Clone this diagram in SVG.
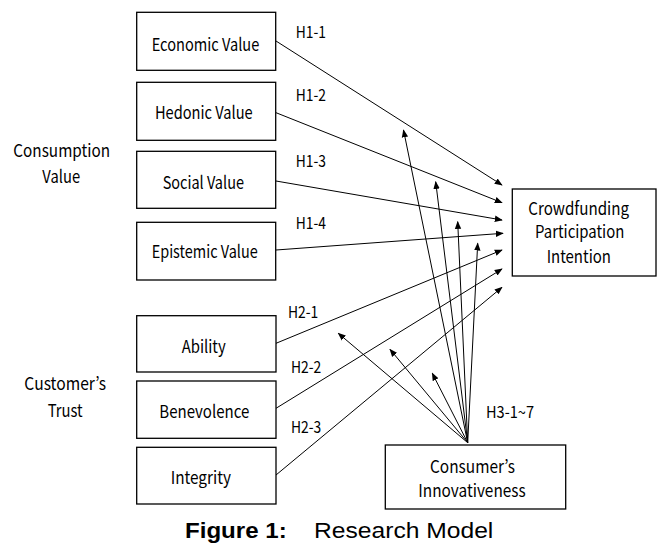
<svg xmlns="http://www.w3.org/2000/svg" width="667" height="552" viewBox="0 0 667 552">
<style>
.box{fill:#fff;stroke:#000;stroke-width:1.3}
.t{font-family:"Noto Sans CJK KR","Noto Sans",sans-serif;font-size:17.5px;fill:#000;text-anchor:middle}
.h{font-family:"Noto Sans CJK KR","Noto Sans",sans-serif;font-size:16.5px;fill:#000}
.c{stroke:#000;stroke-width:1;fill:none;marker-end:url(#ah)}
.cap{font-family:"Liberation Sans",Arial,sans-serif;font-size:22px;fill:#000}
</style>
<defs>
<marker id="ah" viewBox="0 0 10 10" refX="9" refY="5" markerWidth="8" markerHeight="8" markerUnits="userSpaceOnUse" orient="auto">
<path d="M0,1 L10,5 L0,9 Z" fill="#000"/>
</marker>
</defs>
<rect width="667" height="552" fill="#fff"/>
<g id="connectors">
<line class="c" x1="276" y1="41" x2="502" y2="185"/>
<line class="c" x1="276" y1="112.7" x2="502" y2="202.7"/>
<line class="c" x1="276" y1="181" x2="502" y2="220"/>
<line class="c" x1="276" y1="250" x2="503" y2="233.3"/>
<line class="c" x1="276" y1="343.3" x2="502" y2="250"/>
<line class="c" x1="276" y1="408.3" x2="502" y2="269"/>
<line class="c" x1="276" y1="475" x2="502" y2="287.3"/>
<line class="c" x1="467.7" y1="442.7" x2="403.5" y2="130"/>
<line class="c" x1="467.7" y1="442.7" x2="435.7" y2="181.7"/>
<line class="c" x1="467.7" y1="442.7" x2="457.7" y2="221.7"/>
<line class="c" x1="467.7" y1="442.7" x2="477.7" y2="243.3"/>
<line class="c" x1="467.7" y1="442.7" x2="338.3" y2="333.3"/>
<line class="c" x1="467.7" y1="442.7" x2="390" y2="349.3"/>
<line class="c" x1="467.7" y1="442.7" x2="432.3" y2="373.3"/>
</g>
<g id="labels">
<text class="h" x="295.7" y="38.3" textLength="30.3" lengthAdjust="spacingAndGlyphs">H1-1</text>
<text class="h" x="295.7" y="100.5" textLength="30.3" lengthAdjust="spacingAndGlyphs">H1-2</text>
<text class="h" x="295.7" y="167" textLength="30.3" lengthAdjust="spacingAndGlyphs">H1-3</text>
<text class="h" x="295.7" y="228.5" textLength="30.3" lengthAdjust="spacingAndGlyphs">H1-4</text>
<text class="h" x="288" y="318.3" textLength="30.3" lengthAdjust="spacingAndGlyphs">H2-1</text>
<text class="h" x="291" y="373.3" textLength="30.3" lengthAdjust="spacingAndGlyphs">H2-2</text>
<text class="h" x="291" y="433.3" textLength="30.3" lengthAdjust="spacingAndGlyphs">H2-3</text>
<text class="h" x="486" y="418.3" textLength="48" lengthAdjust="spacingAndGlyphs">H3-1~7</text>
</g>
<g id="economic"><rect class="box" x="136.7" y="12.3" width="139" height="58"/><text class="t" x="205.5" y="50.5" textLength="107.6" lengthAdjust="spacingAndGlyphs">Economic Value</text></g>
<g id="hedonic"><rect class="box" x="136.7" y="82.3" width="139" height="58"/><text class="t" x="203.8" y="119" textLength="97.7" lengthAdjust="spacingAndGlyphs">Hedonic Value</text></g>
<g id="social"><rect class="box" x="136.7" y="151.3" width="139" height="57"/><text class="t" x="203.3" y="189.3" textLength="81.3" lengthAdjust="spacingAndGlyphs">Social Value</text></g>
<g id="epistemic"><rect class="box" x="136.7" y="222.3" width="139" height="57.7"/><text class="t" x="204.7" y="258.3" textLength="106" lengthAdjust="spacingAndGlyphs">Epistemic Value</text></g>
<g id="ability"><rect class="box" x="136.7" y="315.7" width="139.3" height="56.3"/><text class="t" x="203.7" y="353.3" textLength="44" lengthAdjust="spacingAndGlyphs">Ability</text></g>
<g id="benevolence"><rect class="box" x="136.7" y="381" width="139.3" height="57.3"/><text class="t" x="204.3" y="418.3" textLength="90" lengthAdjust="spacingAndGlyphs">Benevolence</text></g>
<g id="integrity"><rect class="box" x="136.7" y="447.3" width="139.3" height="56.7"/><text class="t" x="200.8" y="484" textLength="60.3" lengthAdjust="spacingAndGlyphs">Integrity</text></g>
<g id="crowdfunding"><rect class="box" x="512.3" y="189" width="143.7" height="87"/><text class="t" x="578.7" y="215" textLength="100.7" lengthAdjust="spacingAndGlyphs">Crowdfunding</text><text class="t" x="579.7" y="238.3" textLength="89.3" lengthAdjust="spacingAndGlyphs">Participation</text><text class="t" x="578.8" y="263.3" textLength="64.3" lengthAdjust="spacingAndGlyphs">Intention</text></g>
<g id="innovativeness"><rect class="box" x="385.3" y="445" width="180.4" height="64"/><text class="t" x="472.5" y="472.7" textLength="85" lengthAdjust="spacingAndGlyphs">Consumer’s</text><text class="t" x="472" y="496.7" textLength="107.3" lengthAdjust="spacingAndGlyphs">Innovativeness</text></g>
<g id="consumption-value"><text class="t" x="61.7" y="156.7" textLength="96.7" lengthAdjust="spacingAndGlyphs">Consumption</text><text class="t" x="61.2" y="183.3" textLength="37.7" lengthAdjust="spacingAndGlyphs">Value</text></g>
<g id="customers-trust"><text class="t" x="65.2" y="390" textLength="81.7" lengthAdjust="spacingAndGlyphs">Customer’s</text><text class="t" x="65.2" y="416.7" textLength="35" lengthAdjust="spacingAndGlyphs">Trust</text></g>
<g id="caption"><text class="cap" x="185" y="538" font-weight="bold" textLength="101.7" lengthAdjust="spacingAndGlyphs">Figure 1:</text><text class="cap" x="314" y="538" textLength="179.3" lengthAdjust="spacingAndGlyphs">Research Model</text></g>
</svg>
